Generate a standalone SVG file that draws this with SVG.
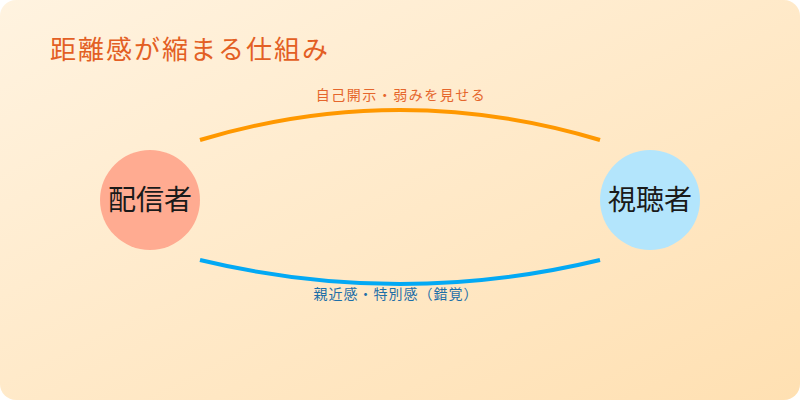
<svg xmlns="http://www.w3.org/2000/svg" width="800" height="400" viewBox="0 0 800 400">
<defs>
<linearGradient id="bg" x1="0" y1="0" x2="1" y2="1">
<stop offset="0" stop-color="#FFF3E0"/>
<stop offset="1" stop-color="#FFE0B2"/>
</linearGradient>
<style>
text{font-family:"Noto Sans CJK JP","Noto Sans",sans-serif;}
.title{font-size:26px;fill:#E35F24;letter-spacing:2px;}
.lbl{font-size:14px;text-anchor:middle;letter-spacing:1.5px;}
.node{font-size:28px;fill:#1a1a1a;text-anchor:middle;}
.arc{fill:none;stroke-width:4;}
</style>
</defs>
<rect x="0" y="0" width="800" height="400" rx="16" fill="url(#bg)"/>
<text class="title" x="50" y="59">距離感が縮まる仕組み</text>
<g id="connectors">
<path class="arc" d="M200 140 Q400 80 600 140" stroke="#FF9800"/>
<path class="arc" d="M200 260 Q400 308 600 260" stroke="#03A9F4"/>
<text class="lbl" x="401" y="100" fill="#E5662C">自己開示・弱みを見せる</text>
<text class="lbl" x="396" y="299" fill="#1E6FA8" style="letter-spacing:1px">親近感・特別感（錯覚）</text>
</g>
<g id="streamer">
<circle cx="150" cy="200" r="50" fill="#FFAB91"/>
<text class="node" x="150" y="210">配信者</text>
</g>
<g id="viewer">
<circle cx="650" cy="200" r="50" fill="#B3E5FC"/>
<text class="node" x="650" y="210">視聴者</text>
</g>
</svg>
